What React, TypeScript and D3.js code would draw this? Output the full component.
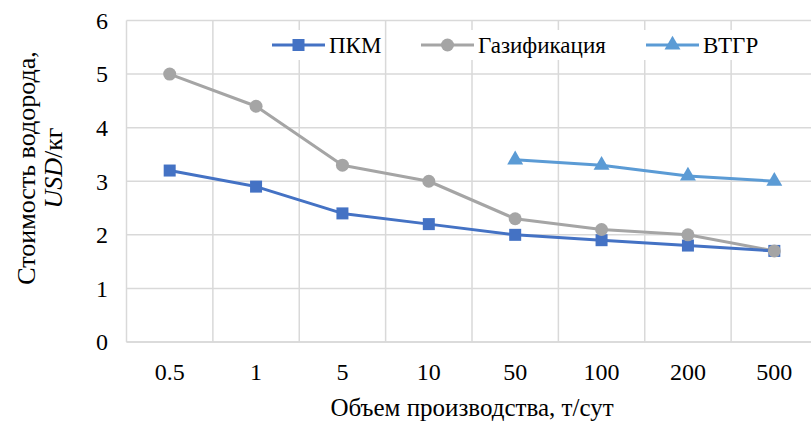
import * as d3 from 'd3'

const categories = ['0.5', '1', '5', '10', '50', '100', '200', '500']
const pkmValues = [3.2, 2.9, 2.4, 2.2, 2.0, 1.9, 1.8, 1.7]
const gasValues = [5.0, 4.4, 3.3, 3.0, 2.3, 2.1, 2.0, 1.7]
const vtgrCategories = ['50', '100', '200', '500']
const vtgrValues = [3.4, 3.3, 3.1, 3.0]
const yTicks = [0, 1, 2, 3, 4, 5, 6]

const W = 811
const H = 422
const FONT = '"Liberation Serif", "Times New Roman", serif'

type Pt = { c: string; v: number }

export default function App() {
  const x = d3.scaleBand<string>().domain(categories).range([126.5, 817.5])
  const y = d3.scaleLinear().domain([0, 6]).range([342, 20.5])
  const cx = (c: string) => (x(c) ?? 0) + x.bandwidth() / 2
  const line = d3
    .line<Pt>()
    .x((d) => cx(d.c))
    .y((d) => y(d.v))

  const pkm: Pt[] = categories.map((c, i) => ({ c, v: pkmValues[i] }))
  const gas: Pt[] = categories.map((c, i) => ({ c, v: gasValues[i] }))
  const vtgr: Pt[] = vtgrCategories.map((c, i) => ({ c, v: vtgrValues[i] }))

  const tri = d3.symbol().type(d3.symbolTriangle).size(110)()

  const legend = [
    { name: 'ПКМ', x0: 272, color: '#4472C4', kind: 'square' },
    { name: 'Газификация', x0: 421, color: '#A5A5A5', kind: 'circle' },
    { name: 'ВТГР', x0: 646, color: '#5B9BD5', kind: 'triangle' },
  ]

  const marker = (kind: string, color: string, px: number, py: number, key: string) => {
    if (kind === 'square')
      return <rect key={key} x={px - 6} y={py - 6} width={12} height={12} fill={color} />
    if (kind === 'circle') return <circle key={key} cx={px} cy={py} r={6.5} fill={color} />
    return <path key={key} d={tri ?? ''} transform={`translate(${px},${py})`} fill={color} />
  }

  return (
    <svg
      width={W}
      height={H}
      style={{ position: 'absolute', left: 0, top: 0, background: '#fff', fontFamily: FONT }}
    >
      {/* grid */}
      {yTicks.map((t) => (
        <line key={`gy${t}`} x1={126.5} x2={W} y1={y(t)} y2={y(t)} stroke="#d9d9d9" strokeWidth={1.5} />
      ))}
      {categories.map((c) => (
        <line
          key={`gx${c}`}
          x1={x(c) ?? 0}
          x2={x(c) ?? 0}
          y1={y(6)}
          y2={y(0)}
          stroke="#d9d9d9"
          strokeWidth={1.5}
        />
      ))}
      <line x1={126.5} x2={W} y1={y(0)} y2={y(0)} stroke="#d9d9d9" strokeWidth={1.5} />

      {/* y ticks */}
      {yTicks.map((t) => (
        <text key={`ty${t}`} x={108} y={y(t)} dy="0.35em" textAnchor="end" fontSize={24} fill="#000">
          {t}
        </text>
      ))}
      {/* x ticks */}
      {categories.map((c) => (
        <text key={`tx${c}`} x={cx(c)} y={372} dy="0.35em" textAnchor="middle" fontSize={24} fill="#000">
          {c}
        </text>
      ))}

      {/* series */}
      <path d={line(gas) ?? ''} fill="none" stroke="#A5A5A5" strokeWidth={3} strokeLinejoin="round" />
      <path d={line(pkm) ?? ''} fill="none" stroke="#4472C4" strokeWidth={3} strokeLinejoin="round" />
      <path d={line(vtgr) ?? ''} fill="none" stroke="#5B9BD5" strokeWidth={3} strokeLinejoin="round" />
      {pkm.map((d) => marker('square', '#4472C4', cx(d.c), y(d.v), `p${d.c}`))}
      {gas.map((d) => marker('circle', '#A5A5A5', cx(d.c), y(d.v), `g${d.c}`))}
      {vtgr.map((d) => marker('triangle', '#5B9BD5', cx(d.c), y(d.v), `v${d.c}`))}

      {/* legend */}
      {legend.map((l) => (
        <g key={l.name}>
          <rect x={l.x0 - 4} y={30} width={l.name.length * 12 + 70} height={30} fill="#fff" />
          <line x1={l.x0} x2={l.x0 + 53} y1={45} y2={45} stroke={l.color} strokeWidth={3} />
          {marker(l.kind, l.color, l.x0 + 26.5, 45, `lm${l.name}`)}
          <text x={l.x0 + 57} y={45} dy="0.35em" fontSize={23} fill="#000">
            {l.name}
          </text>
        </g>
      ))}

      {/* axis titles */}
      <text x={472} y={407} dy="0.35em" textAnchor="middle" fontSize={25} fill="#000">
        Объем производства, т/сут
      </text>
      <g transform="translate(26,168) rotate(-90)">
        <text x={0} y={0} dy="0.35em" textAnchor="middle" fontSize={26} fill="#000">
          Стоимость водорода,
        </text>
        <text x={0} y={27} dy="0.35em" textAnchor="middle" fontSize={26} fill="#000">
          <tspan fontStyle="italic">USD</tspan>/кг
        </text>
      </g>
    </svg>
  )
}
